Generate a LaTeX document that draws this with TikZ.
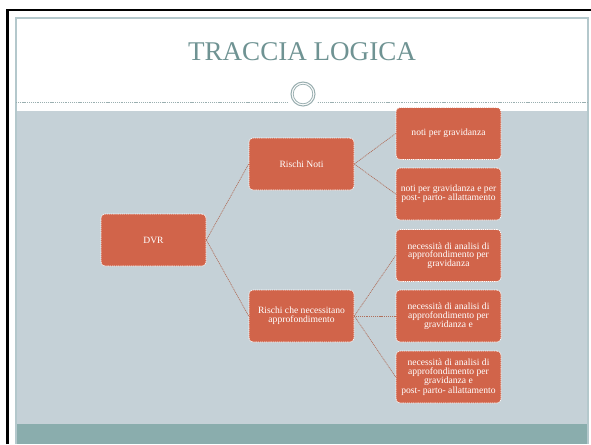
\documentclass[tikz,border=0pt]{standalone}
\usepackage{fontspec}
\setmainfont{Liberation Serif}
\definecolor{boxfill}{HTML}{D1644A}
\definecolor{greybg}{HTML}{C5D1D7}
\definecolor{tealband}{HTML}{8AADAD}
\definecolor{titlecol}{HTML}{6F9393}
\definecolor{linkcol}{HTML}{B0705C}
\definecolor{framecol}{HTML}{B4C8CC}
\definecolor{dotcol}{HTML}{9AAFB0}
\begin{document}
\begin{tikzpicture}[x=0.75pt,y=-0.75pt,
  riskbox/.style={draw=white, line width=0.5pt, dash pattern=on 1pt off 0.6pt,
    fill=boxfill, rounded corners=3pt, minimum width=78.75pt, minimum height=39pt,
    text=white, align=center, inner sep=1pt, font=\fontsize{7.2}{6.6}\selectfont},
  link/.style={draw=linkcol, line width=0.5pt, dash pattern=on 0.8pt off 0.6pt}]
\useasboundingbox (0,0) rectangle (591,444);
\fill[white] (0,0) rectangle (591,444);
% black outer frame
\draw[black, line width=2pt] (7.5,444) -- (7.5,10) -- (591,10);
% slide
\fill[white] (16,18) rectangle (588,444);
\fill[greybg] (16,111) rectangle (588,424);
\fill[tealband] (16,424) rectangle (588,444);
\draw[framecol, line width=0.8pt] (16,444) -- (16,18) -- (588,18) -- (588,444);
% dotted header line
\draw[dotcol, line width=0.5pt, dash pattern=on 0.8pt off 0.6pt] (16,102) -- (588,102);
% circle ornament
\fill[white] (303,94) circle (17);
\draw[dotcol, line width=0.8pt] (303,94) circle (12);
\draw[dotcol, line width=0.6pt] (303,94) circle (9.8);
% title
\node[text=titlecol, font=\fontsize{20.3}{24}\selectfont] (title) at (302,52) {TRACCIA LOGICA};
% boxes
\node[riskbox] (dvr) at (153.5,240) {DVR};
\node[riskbox] (rn) at (301.5,164) {Rischi Noti};
\node[riskbox] (ra) at (301.5,316) {Rischi che necessitano\\approfondimento};
\node[riskbox] (b1) at (448.5,133.5) {noti per gravidanza};
\node[riskbox] (b2) at (448.5,194) {noti per gravidanza e per\\post- parto- allattamento};
\node[riskbox] (b3) at (448.5,255.5) {necessità di analisi di\\approfondimento per\\gravidanza};
\node[riskbox] (b4) at (448.5,316) {necessità di analisi di\\approfondimento per\\gravidanza e};
\node[riskbox] (b5) at (448.5,377) {necessità di analisi di\\approfondimento per\\gravidanza e\\[1pt]post- parto- allattamento};
% connectors
\draw[link] (dvr.east) -- (rn.west);
\draw[link] (dvr.east) -- (ra.west);
\draw[link] (rn.east) -- (b1.west);
\draw[link] (rn.east) -- (b2.west);
\draw[link] (ra.east) -- (b3.west);
\draw[link] (ra.east) -- (b4.west);
\draw[link] (ra.east) -- (b5.west);
\end{tikzpicture}
\end{document}
